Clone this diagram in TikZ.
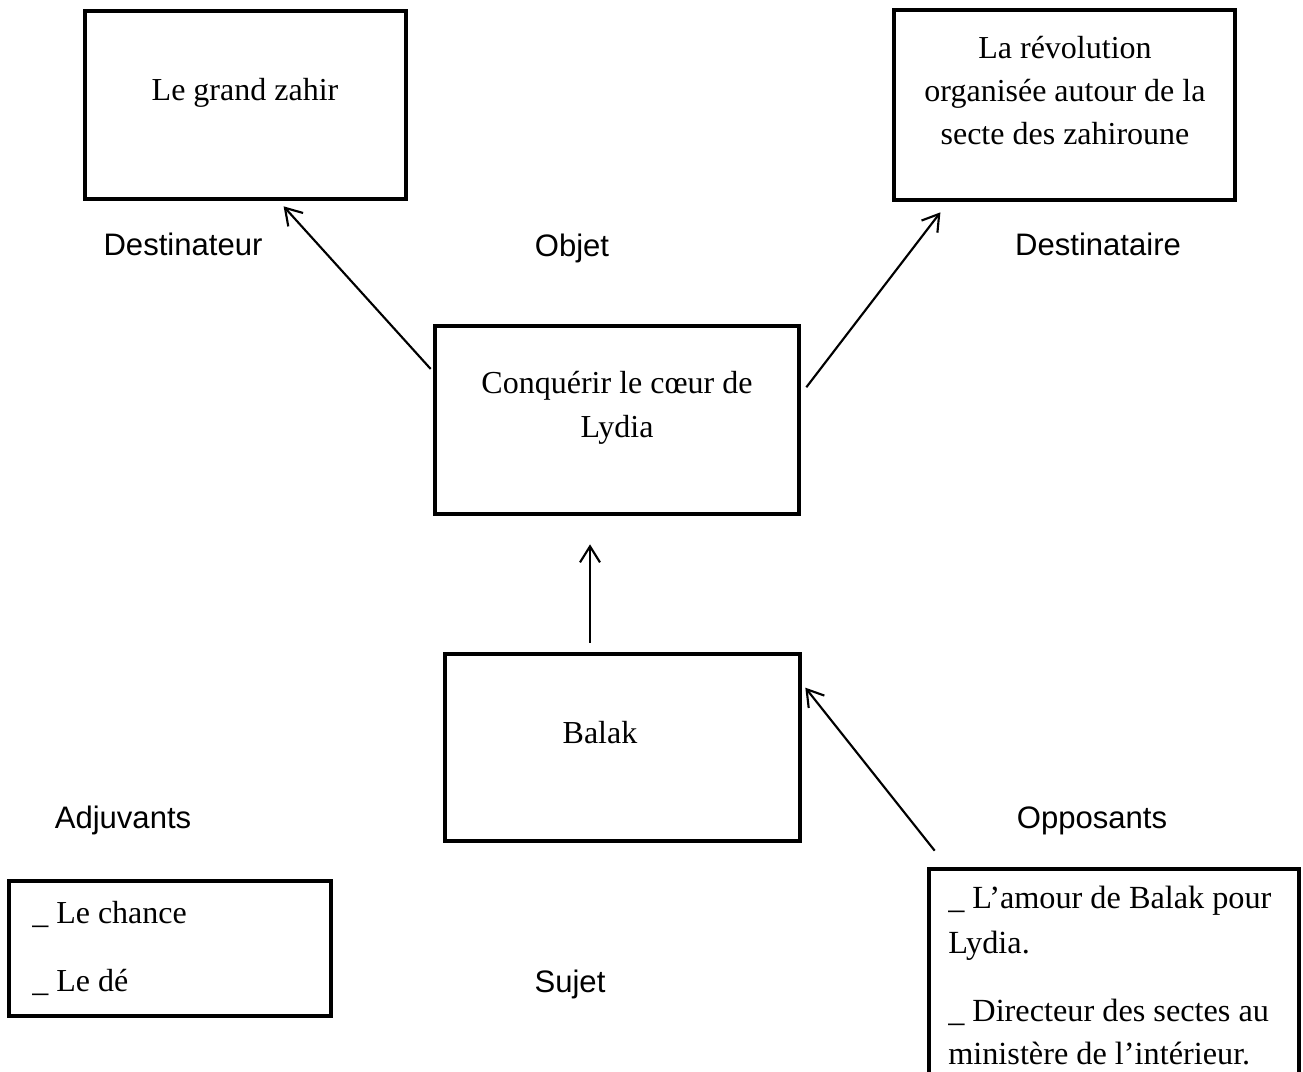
\documentclass[tikz,border=0pt]{standalone}
\usepackage{fontspec}
\setmainfont{Liberation Serif}
\newfontfamily\lblfont{Liberation Sans}
\usetikzlibrary{arrows.meta,calc}
\begin{document}
\begin{tikzpicture}[x=0.75pt,y=-0.75pt,
  box/.style={draw,line width=3.5pt,inner sep=0pt},
  txt/.style={font=\fontsize{24pt}{32pt}\selectfont,anchor=base,inner sep=0pt},
  ltxt/.style={font=\fontsize{24pt}{32pt}\selectfont,anchor=base west,inner sep=0pt},
  otxt/.style={font=\fontsize{24.2pt}{34pt}\selectfont,anchor=base west,inner sep=0pt},
  lbl/.style={font=\lblfont\fontsize{23.3pt}{28pt}\selectfont,anchor=base,inner sep=0pt},
  arr/.style={line width=1.6pt,-{Straight Barb[length=12pt,width=15pt]}}
]
\useasboundingbox (0,0) rectangle (1303,1071);
\clip (0,0) rectangle (1303,1071);
% boxes
\node[box,minimum width=240.75pt,minimum height=141pt] (box1) at (245.5,105) {};
\node[box,minimum width=255.75pt,minimum height=142.5pt] (box2) at (1064.5,105) {};
\node[box,minimum width=273pt,minimum height=141pt] (conq) at (617,420) {};
\node[box,minimum width=266.25pt,minimum height=140.25pt] (balak) at (622.5,747.5) {};
\node[box,minimum width=241.5pt,minimum height=101.25pt] (adj) at (170,948.5) {};
\node[box,minimum width=277.5pt,minimum height=165.75pt] (opp) at (1114,979.5) {};
% box texts
\node[txt] (t1) at (245,100) {Le grand zahir};
\node[txt] (t2a) at (1065,58) {La révolution};
\node[txt] (t2b) at (1065,101) {organisée autour de la};
\node[txt] (t2c) at (1065,144) {secte des zahiroune};
\node[txt] (t3a) at (617,393) {Conquérir le cœur de};
\node[txt] (t3b) at (617,437) {Lydia};
\node[txt] (t4) at (600,743) {Balak};
\node[ltxt] (t5a) at (32,923) {\_ Le chance};
\node[ltxt] (t5b) at (32,991) {\_ Le dé};
\node[otxt] (t6a) at (948,908) {\_ L’amour de Balak pour};
\node[otxt] (t6b) at (948,953) {Lydia.};
\node[otxt] (t6c) at (948,1021) {\_ Directeur des sectes au};
\node[otxt] (t6d) at (948,1064) {ministère de l’intérieur.};
% labels
\node[lbl] (l1) at (183,255) {Destinateur};
\node[lbl] (l2) at (572,256) {Objet};
\node[lbl] (l3) at (1098,255) {Destinataire};
\node[lbl] (l4) at (123,828) {Adjuvants};
\node[lbl] (l5) at (1092,828) {Opposants};
\node[lbl] (l6) at (570,992) {Sujet};
% arrows
\draw[arr] ($(conq.north west)!0.235!(conq.south west)+(-2,0)$) -- ($(box1.south west)!0.617!(box1.south east)+(0,5)$);
\draw[arr] ($(conq.north east)!0.33!(conq.south east)+(5,0)$) -- ($(box2.south west)!0.141!(box2.south east)+(0,10)$);
\draw[arr] ($(balak.north)+(-32.5,-9)$) -- ($(conq.south)+(-27,28)$);
\draw[arr] ($(opp.north west)+(8,-16)$) -- ($(balak.north east)+(3,36)$);
\end{tikzpicture}
\end{document}
